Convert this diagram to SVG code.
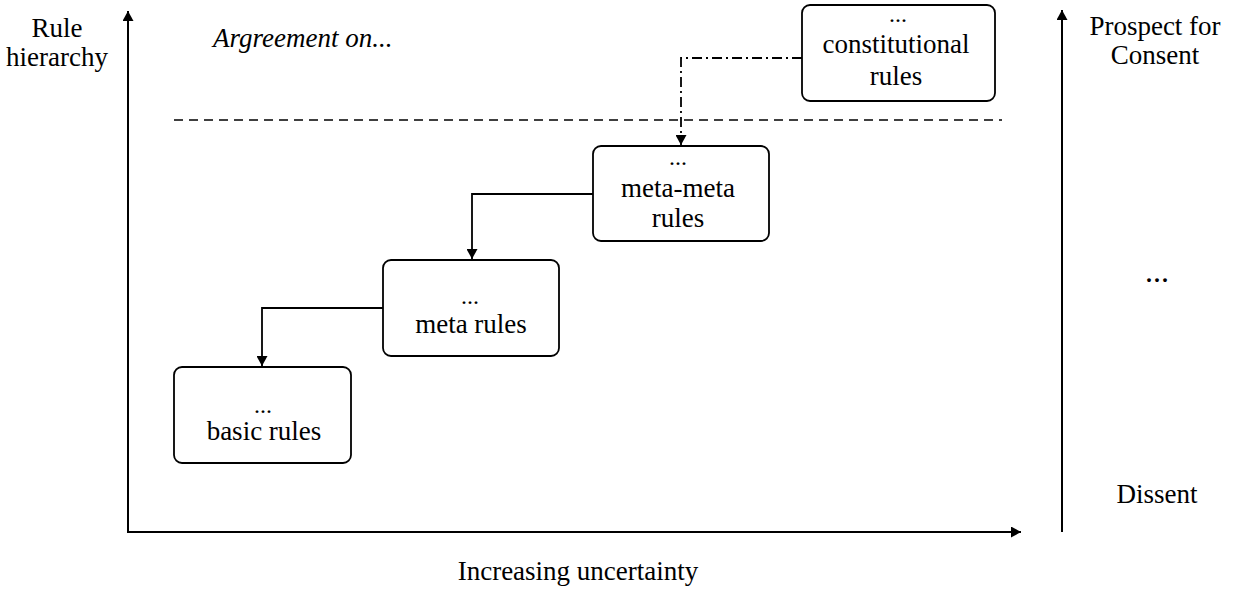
<svg xmlns="http://www.w3.org/2000/svg" width="1235" height="592" viewBox="0 0 1235 592">
<defs>
<marker id="ah" viewBox="0 0 10 11" refX="10" refY="5.5" markerWidth="10" markerHeight="11" markerUnits="userSpaceOnUse" orient="auto">
<path d="M0,0 L10,5.5 L0,11 Z" fill="#000"/>
</marker>
</defs>
<style>
text{font-family:"Liberation Serif","Times New Roman",serif;font-size:27px;fill:#000;text-anchor:middle}
.it{font-style:italic;text-anchor:start}
.dots{font-size:24px}
.box{fill:#fff;stroke:#000;stroke-width:1.8}
.ax{stroke:#000;stroke-width:2;fill:none}
.con{stroke:#000;stroke-width:1.8;fill:none}
</style>
<rect width="1235" height="592" fill="#fff"/>
<g id="axes">
<line class="ax" x1="128" y1="532" x2="128" y2="11" marker-end="url(#ah)"/>
<line class="ax" x1="127" y1="532" x2="1021" y2="532" marker-end="url(#ah)"/>
<line class="ax" x1="1062" y1="532" x2="1062" y2="10" marker-end="url(#ah)"/>
<line stroke="#000" stroke-width="1.5" stroke-dasharray="9,6" x1="174" y1="120" x2="1002" y2="120"/>
</g>
<g id="labels">
<text x="57" y="37">Rule</text>
<text x="57" y="66">hierarchy</text>
<text class="it" x="213" y="47">Argreement on...</text>
<text x="1155" y="35">Prospect for</text>
<text x="1155" y="64">Consent</text>
<text x="1157" y="282" style="font-size:32px">...</text>
<text x="1157" y="503">Dissent</text>
<text x="578" y="580">Increasing uncertainty</text>
</g>
<g id="connectors">
<path class="con" d="M802,58 H681 V145" stroke-dasharray="10,4,2,4" marker-end="url(#ah)"/>
<path class="con" d="M593,194 H472 V259" marker-end="url(#ah)"/>
<path class="con" d="M383,308 H262 V366" marker-end="url(#ah)"/>
</g>
<g id="node-constitutional">
<rect class="box" x="802" y="5" width="193" height="96" rx="8"/>
<text class="dots" x="898" y="22">...</text>
<text x="896" y="53">constitutional</text>
<text x="896" y="85">rules</text>
</g>
<g id="node-metameta">
<rect class="box" x="593" y="146" width="176" height="95" rx="8"/>
<text class="dots" x="678" y="165">...</text>
<text x="678" y="197">meta-meta</text>
<text x="678" y="227">rules</text>
</g>
<g id="node-meta">
<rect class="box" x="383" y="260" width="176" height="96" rx="8"/>
<text class="dots" x="470" y="304">...</text>
<text x="471" y="333">meta rules</text>
</g>
<g id="node-basic">
<rect class="box" x="174" y="367" width="177" height="96" rx="8"/>
<text class="dots" x="263" y="413">...</text>
<text x="264" y="440">basic rules</text>
</g>
</svg>
